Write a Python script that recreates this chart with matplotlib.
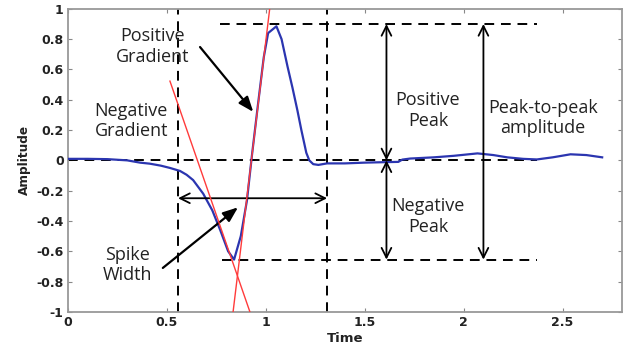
import matplotlib
matplotlib.use("Agg")
import matplotlib.pyplot as plt
import numpy as np

# Signal samples
time = [0.0, 0.1, 0.2, 0.3, 0.365, 0.415, 0.47, 0.516, 0.567, 0.6, 0.633, 0.684, 0.73, 0.77, 0.81, 0.84,
        0.874, 0.905, 0.93, 0.96, 0.99, 1.012, 1.054, 1.08, 1.11, 1.135, 1.16, 1.18, 1.195, 1.205,
        1.22, 1.24, 1.266, 1.31,
        1.4, 1.5, 1.6, 1.67, 1.69, 1.73, 1.85, 1.95, 2.07, 2.15, 2.22, 2.3, 2.37, 2.45, 2.54, 2.62, 2.70]
amplitude = [0.01, 0.01, 0.008, 0.0, -0.015, -0.022, -0.035, -0.05, -0.07, -0.095, -0.13, -0.22, -0.33, -0.46, -0.6, -0.655,
             -0.5, -0.265, 0.03, 0.36, 0.68, 0.84, 0.885, 0.8, 0.62, 0.48, 0.33, 0.2, 0.11, 0.05,
             0.0, -0.025, -0.03, -0.02,
             -0.02, -0.015, -0.012, -0.01, 0.005, 0.012, 0.02, 0.03, 0.046, 0.035, 0.02, 0.01, 0.006, 0.02, 0.04, 0.035, 0.02]

# Tangent (gradient) lines: endpoints
neg_grad_x = [0.516, 0.92]
neg_grad_y = [0.523, -1.0]
pos_grad_x = [0.835, 1.02]
pos_grad_y = [-1.0, 1.0]

# Reference levels
spike_start = 0.557
spike_end = 1.31
pos_peak = 0.9
neg_peak = -0.655
width_level = -0.25
peak_arrow_x = 1.61
p2p_arrow_x = 2.10
hline_end = 2.37

xticks = [0, 0.5, 1, 1.5, 2, 2.5]
xticklabels = ["0", "0.5", "1", "1.5", "2", "2.5"]
yticks = [1, 0.8, 0.6, 0.4, 0.2, 0, -0.2, -0.4, -0.6, -0.8, -1]
yticklabels = ["1", "0.8", "0.6", "0.4", "0.2", "0", "-0.2", "-0.4", "-0.6", "-0.8", "-1"]

fig = plt.figure(figsize=(6.34, 3.54), dpi=100)
ax = fig.add_axes([0.107, 0.119, 0.874, 0.856])
ax.set_xlim(0, 2.8)
ax.set_ylim(-1, 1)

dash = dict(color="black", lw=1.4, ls=(0, (5, 3.5)))
ax.axvline(spike_start, **dash)
ax.axvline(spike_end, **dash)
ax.plot([0, hline_end], [0, 0], **dash)
ax.plot([0.77, hline_end], [pos_peak, pos_peak], **dash)
ax.plot([0.78, hline_end], [neg_peak, neg_peak], **dash)

ax.plot(time, amplitude, color="#2b35b0", lw=1.6, zorder=3, solid_joinstyle="round")
ax.plot(neg_grad_x, neg_grad_y, color="#ff3b3b", lw=1.0, zorder=4)
ax.plot(pos_grad_x, pos_grad_y, color="#ff3b3b", lw=1.0, zorder=4)

open_arrow = dict(arrowstyle="<->,head_length=0.7,head_width=0.35", color="black", lw=1.3,
                  shrinkA=0, shrinkB=0)
ax.annotate("", xy=(spike_start, width_level), xytext=(spike_end, width_level), arrowprops=open_arrow)
ax.annotate("", xy=(peak_arrow_x, pos_peak), xytext=(peak_arrow_x, 0), arrowprops=open_arrow)
ax.annotate("", xy=(peak_arrow_x, neg_peak), xytext=(peak_arrow_x, 0), arrowprops=open_arrow)
ax.annotate("", xy=(p2p_arrow_x, pos_peak), xytext=(p2p_arrow_x, neg_peak), arrowprops=open_arrow)

fill_arrow = dict(arrowstyle="-|>,head_length=0.9,head_width=0.35", color="black", lw=1.6,
                  shrinkA=0, shrinkB=0)
ax.annotate("", xy=(0.937, 0.32), xytext=(0.668, 0.748), arrowprops=fill_arrow)
ax.annotate("", xy=(0.86, -0.31), xytext=(0.48, -0.71), arrowprops=fill_arrow)

tfont = dict(fontsize=13, family=["Open Sans", "DejaVu Sans"], color="#222222",
             ha="center", va="center", linespacing=1.2)
ax.text(0.43, 0.75, "Positive\nGradient", **tfont)
ax.text(0.32, 0.26, "Negative\nGradient", **tfont)
ax.text(0.30, -0.69, "Spike\nWidth", **tfont)
ax.text(1.82, 0.33, "Positive\nPeak", **tfont)
ax.text(1.82, -0.37, "Negative\nPeak", **tfont)
ax.text(2.40, 0.28, "Peak-to-peak\namplitude", **tfont)

ax.set_xticks(xticks)
ax.set_xticklabels(xticklabels)
ax.set_yticks(yticks)
ax.set_yticklabels(yticklabels)
ax.tick_params(direction="in", top=True, right=True, length=3, width=0.8, color="#888888",
               labelsize=9, pad=3, labelcolor="#222222")
for lab in ax.get_xticklabels() + ax.get_yticklabels():
    lab.set_fontweight("bold")
    lab.set_family("DejaVu Sans")
for s in ax.spines.values():
    s.set_color("#999999")
    s.set_linewidth(1.3)

ax.set_xlabel("Time", fontsize=9.5, fontweight="bold", family="DejaVu Sans", labelpad=2, color="#222222")
ax.set_ylabel("Amplitude", fontsize=8.7, fontweight="bold", family="DejaVu Sans", labelpad=4, color="#222222")

fig.savefig("out.png", dpi=100)
